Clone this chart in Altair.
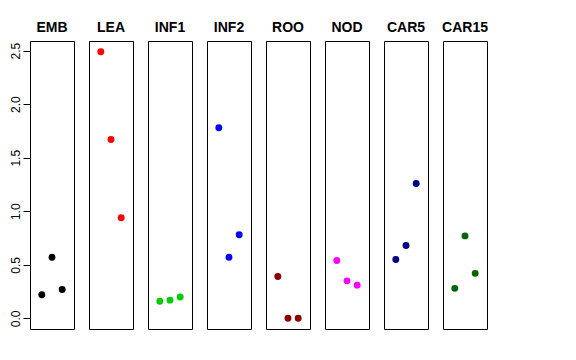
import altair as alt
import pandas as pd

tissues = ["EMB", "LEA", "INF1", "INF2", "ROO", "NOD", "CAR5", "CAR15"]
colors = ["#000000", "#FF0000", "#00CD00", "#0000FF", "#8B0000", "#FF00FF", "#00008B", "#006400"]
positions = [1, 2, 3]
values = {
    "EMB": [0.22, 0.57, 0.27],
    "LEA": [2.49, 1.67, 0.94],
    "INF1": [0.16, 0.17, 0.20],
    "INF2": [1.78, 0.57, 0.78],
    "ROO": [0.39, 0.0, 0.0],
    "NOD": [0.54, 0.35, 0.31],
    "CAR5": [0.55, 0.68, 1.26],
    "CAR15": [0.28, 0.77, 0.42],
}
y_ticks = [0.0, 0.5, 1.0, 1.5, 2.0, 2.5]

rows = []
for t in tissues:
    for p, v in zip(positions, values[t]):
        rows.append({"tissue": t, "pos": p, "value": v})
df = pd.DataFrame(rows)

base = alt.Chart(df).mark_circle(size=48, opacity=1).encode(
    x=alt.X("pos:Q", scale=alt.Scale(domain=[-0.16, 4.16], nice=False, zero=False), axis=None),
    y=alt.Y("value:Q", scale=alt.Scale(domain=[-0.0996, 2.59], nice=False, zero=False),
            axis=alt.Axis(values=y_ticks, format=".1f", grid=False, domain=False, tickSize=7,
                          tickColor="black", labelColor="black", labelFontSize=12,
                          labelFont="Liberation Sans", labelAngle=270, labelAlign="center",
                          labelBaseline="bottom", labelPadding=1, title=None)),
    color=alt.Color("tissue:N", scale=alt.Scale(domain=tissues, range=colors), legend=None),
).properties(width=44, height=288)

chart = base.facet(
    column=alt.Column("tissue:N", sort=tissues,
                      header=alt.Header(title=None, labelFontWeight="bold", labelFontSize=14,
                                        labelFont="Liberation Sans", labelColor="black",
                                        labelPadding=6)),
    spacing=15,
    bounds="flush",
).properties(
    padding={"left": 0, "top": 13, "right": 0, "bottom": 0}
).configure_view(stroke="black", strokeWidth=1)

chart.save("out.html", embed_options={"renderer": "svg", "actions": False})
